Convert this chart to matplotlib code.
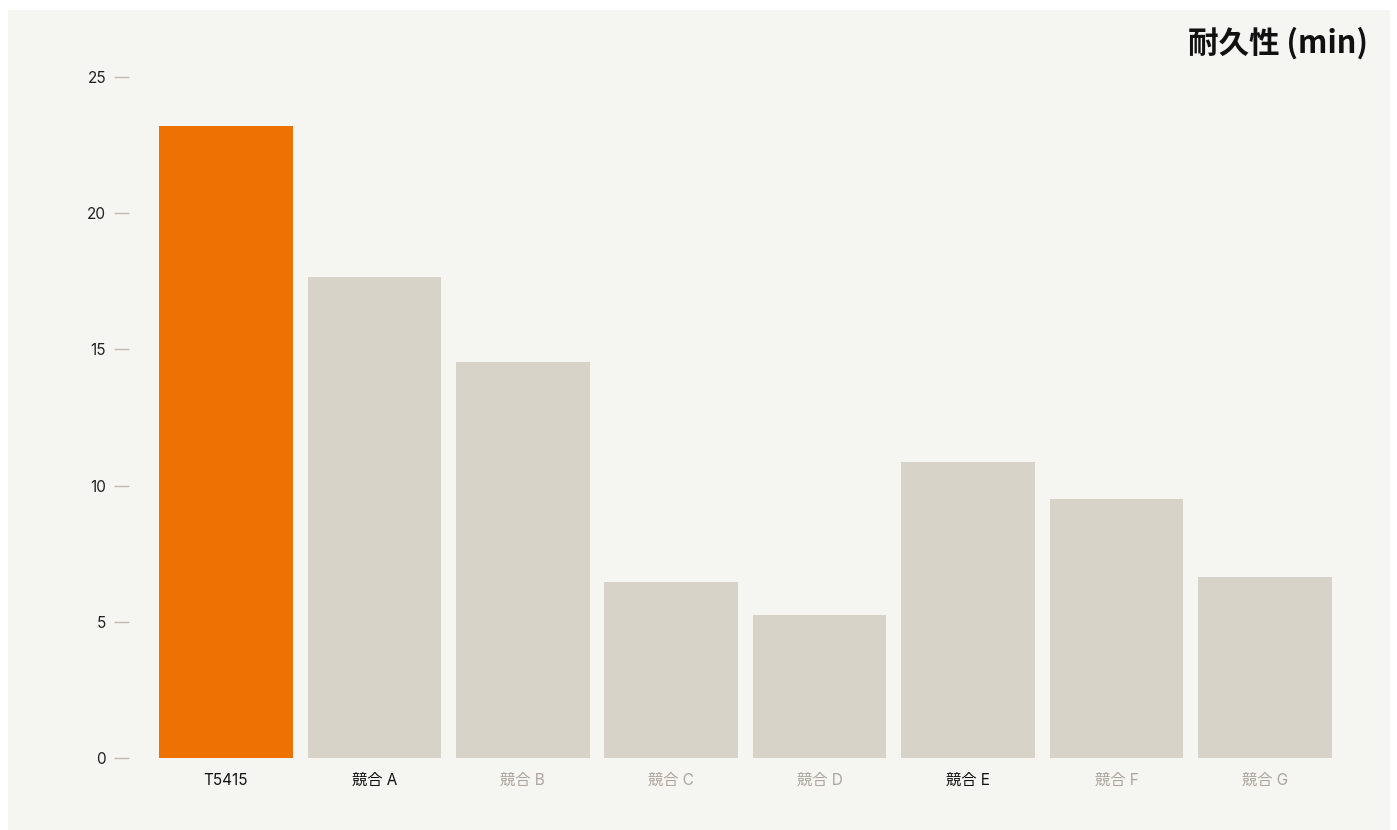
import matplotlib.pyplot as plt
from matplotlib.patches import Rectangle

categories = ['T5415', '競合 A', '競合 B', '競合 C', '競合 D', '競合 E', '競合 F', '競合 G']
values = [23.2, 17.65, 14.55, 6.45, 5.25, 10.85, 9.5, 6.65]
highlight = ['T5415', '競合 A', '競合 E']
yticks = [0, 5, 10, 15, 20, 25]

bg = '#f5f5f1'
orange = '#ee7203'
grey = '#d8d3c9'
muted = '#ada59b'

fig = plt.figure(figsize=(13.97, 8.30), dpi=100)
fig.patch.set_facecolor('white')
# light panel behind the chart
fig.add_artist(Rectangle((8 / 1397, 0), 1382 / 1397, 820 / 830,
                         transform=fig.transFigure, facecolor=bg, edgecolor='none', zorder=0))

ax = fig.add_axes([151.8 / 1397, (830 - 758) / 830, (1339 - 151.8) / 1397, (758 - 77) / 830])
ax.set_facecolor('none')

colors = [orange if c == 'T5415' else grey for c in categories]
ax.bar(range(len(categories)), values, width=0.9, color=colors)

ax.set_xlim(-0.5, len(categories) - 0.5)
ax.set_ylim(0, 25)
for s in ax.spines.values():
    s.set_visible(False)
ax.spines['left'].set_position(('outward', 16.5))

ax.set_yticks(yticks)
ax.set_yticklabels([str(t) for t in yticks], family=['Inter', 'DejaVu Sans'], fontsize=11, color='#222222')
ax.tick_params(axis='y', length=10.8, width=1, color='#c2b9ae', pad=5.5)

ax.set_xticks(range(len(categories)))
ax.set_xticklabels(categories, family=['Inter', 'Noto Sans CJK JP'], fontsize=11)
ax.tick_params(axis='x', length=0, pad=11)
for lbl in ax.get_xticklabels():
    lbl.set_color('#111111' if lbl.get_text() in highlight else muted)

fig.text(1368 / 1397, 1 - 43 / 830, '耐久性 (min)', ha='right', va='center',
         family=['Noto Sans CJK JP', 'DejaVu Sans'], fontsize=22, fontweight='bold', color='#111111')

fig.savefig('out.png', dpi=100, facecolor=fig.get_facecolor())
